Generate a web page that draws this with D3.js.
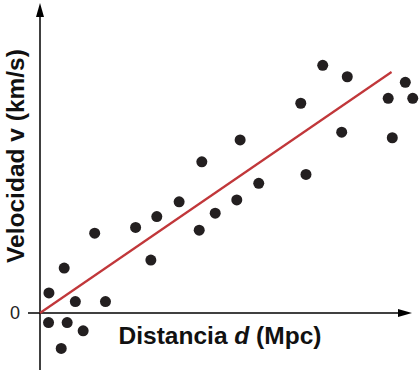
<!DOCTYPE html>
<html>
<head>
<meta charset="utf-8">
<script src="https://cdn.jsdelivr.net/npm/d3@7"></script>
<style>
  body { margin: 0; background: #fff; }
  svg { display: block; font-family: "Liberation Sans", Arial, sans-serif; }
</style>
</head>
<body>
<div id="chart"></div>
<script>
// distance d (arbitrary units) and velocity v
var distance = [2.4, 6.5, 14.7, 25.7, 9.5, 17.6, 2.3, 7.3, 11.6, 5.7,
                29.8, 31.4, 37.4, 43.5, 42.8, 47.1, 52.9, 53.8, 58.8,
                70.1, 71.5, 76.0, 82.6, 81.1, 93.6, 94.7, 98.2, 100.2];
var velocity = [6.5, 14.6, 25.9, 27.8, 3.7, 3.7, -3.1, -3.1, -5.8, -11.5,
                17.2, 31.3, 36.1, 49.1, 26.9, 32.4, 36.7, 56.2, 42.1,
                68.1, 45.0, 80.4, 76.7, 58.7, 69.7, 56.9, 74.9, 69.7];
// best fit line, from origin
var fitX = [0, 94.5];
var fitSlope = 0.828;
var yTicks = [0];

var width = 419, height = 370;

var svg = d3.select("#chart").append("svg")
    .attr("width", width)
    .attr("height", height);

var x = d3.scaleLinear().domain([0, 100]).range([40, 412]);
var y = d3.scaleLinear().domain([0, 100]).range([313, 5]);

// axes
svg.append("line")
    .attr("x1", x(0) - 12).attr("x2", 402)
    .attr("y1", y(0)).attr("y2", y(0))
    .attr("stroke", "#000").attr("stroke-width", 1.5);
svg.append("path")
    .attr("d", "M398," + (y(0) - 4) + "L412," + y(0) + "L398," + (y(0) + 4) + "Z")
    .attr("fill", "#000");

svg.append("line")
    .attr("x1", x(0)).attr("x2", x(0))
    .attr("y1", 14).attr("y2", height)
    .attr("stroke", "#000").attr("stroke-width", 1.5);
svg.append("path")
    .attr("d", "M" + (x(0) - 4) + ",17L" + x(0) + ",3L" + (x(0) + 4) + ",17Z")
    .attr("fill", "#000");

svg.selectAll(".ytick")
    .data(yTicks)
    .enter().append("text")
    .attr("class", "ytick")
    .attr("x", 20)
    .attr("y", d => y(d))
    .attr("dy", "0.35em")
    .attr("text-anchor", "end")
    .attr("font-size", 18)
    .attr("fill", "#222")
    .text(d => d);

// fit line
svg.append("line")
    .attr("x1", x(fitX[0])).attr("y1", y(fitX[0] * fitSlope))
    .attr("x2", x(fitX[1])).attr("y2", y(fitX[1] * fitSlope))
    .attr("stroke", "#c1373a")
    .attr("stroke-width", 2.2);

// points
svg.append("g")
    .selectAll("circle")
    .data(distance)
    .enter().append("circle")
    .attr("cx", d => x(d))
    .attr("cy", (d, i) => y(velocity[i]))
    .attr("r", 5.5)
    .attr("fill", "#231f20");

// labels
var xl = svg.append("text")
    .attr("x", 220)
    .attr("y", 344)
    .attr("text-anchor", "middle")
    .attr("font-size", 24.5)
    .attr("font-weight", "bold")
    .attr("fill", "#111");
xl.append("tspan").text("Distancia ");
xl.append("tspan").attr("font-style", "italic").text("d");
xl.append("tspan").text(" (Mpc)");

svg.append("text")
    .attr("transform", "translate(24,156) rotate(-90)")
    .attr("text-anchor", "middle")
    .attr("font-size", 24.5)
    .attr("font-weight", "bold")
    .attr("fill", "#111")
    .text("Velocidad v (km/s)");
</script>
</body>
</html>
